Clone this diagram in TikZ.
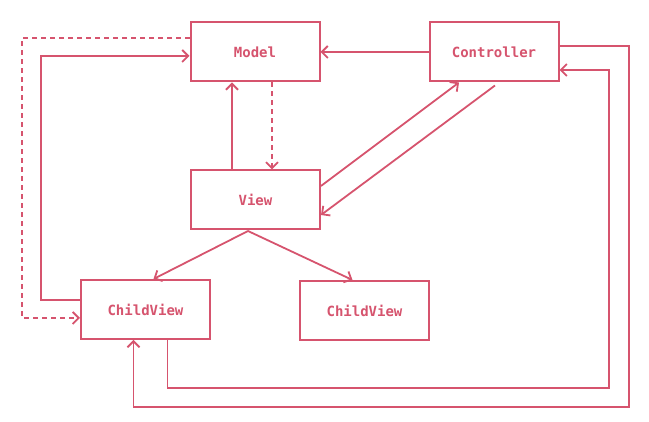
\documentclass[tikz,border=0pt]{standalone}
\usepackage{fontspec}
\newfontfamily\monofnt{DejaVu Sans Mono}
\usetikzlibrary{arrows.meta,calc}
\definecolor{ink}{RGB}{214,84,110}
\begin{document}
\begin{tikzpicture}[x=1pt,y=-1pt,
  box/.style={draw=ink,line width=2pt,fill=white,minimum width=129pt,minimum height=59pt,inner sep=0pt,
    font=\monofnt\bfseries\fontsize{14}{16}\selectfont,text=ink},
  link/.style={draw=ink,line width=1.8pt,-{Straight Barb[length=6pt,width=12pt,line width=1.8pt]}},
  dlink/.style={link,dash pattern=on 5pt off 4pt}]
\useasboundingbox (0,0) rectangle (649,422);
\node[box] (model) at (255,52) {Model};
\node[box] (ctrl) at (494,52) {Controller};
\node[box] (view) at (255.5,200) {View};
\node[box] (cv1) at (145.5,309.5) {ChildView};
\node[box] (cv2) at (364.5,310.5) {ChildView};
\coordinate (l1) at (22,200);
\coordinate (l2) at (41,200);
\coordinate (r1) at (609,388);
\coordinate (r2) at (629,407);
\coordinate (vb) at (248,231);
% controller -> model
\draw[link] (ctrl.west) -- (model.east);
% left loops
\draw[dlink] ($(model.west)+(0,-14)$) -| (l1) |- ($(cv1.west)+(0,8.5)$);
\draw[link] ($(cv1.west)+(0,-9.5)$) -| (l2) |- ($(model.west)+(0,4)$);
% view <-> model
\draw[link] ($(view.north)+(-23.5,0)$) -- ($(model.south)+(-23,0)$);
\draw[dlink] ($(model.south)+(17,0)$) -- ($(view.north)+(16.5,0)$);
% view <-> controller
\draw[link] ($(view.east)+(0,-14)$) -- ($(ctrl.south)+(-35,0)$);
\draw[link] ($(ctrl.south)+(1,3)$) -- ($(view.east)+(0,15)$);
% view -> children
\draw[link] (vb) -- ($(cv1.north)+(8,0)$);
\draw[link] (vb) -- ($(cv2.north)+(-12,0)$);
% right loops
\draw[link] ($(cv1.south)+(22,0)$) |- (r1) |- ($(ctrl.east)+(0,18)$);
\draw[link] ($(ctrl.east)+(0,-6)$) -| (r2) -| ($(cv1.south)+(-12,0)$);
\end{tikzpicture}
\end{document}
